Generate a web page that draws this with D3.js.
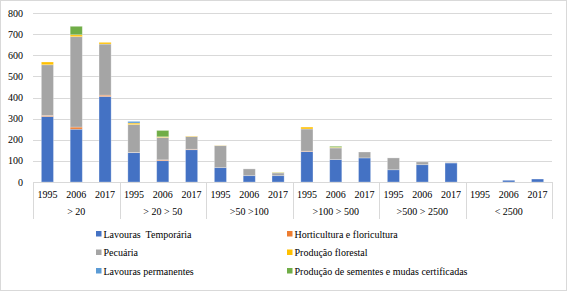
<!DOCTYPE html>
<html>
<head>
<meta charset="utf-8">
<script src="https://d3js.org/d3.v7.min.js"></script>
<style>
  body { margin: 0; background: #fff; }
</style>
</head>
<body>
<script>

// categories
var groups = ["> 20", "> 20 > 50", ">50 >100", ">100 > 500", ">500 > 2500", "< 2500"];
var years = ["1995", "2006", "2017"];

// series names, bottom to top of each stack
var seriesNames = [
  "Lavouras  Temporária",
  "Horticultura e floricultura",
  "Pecuária",
  "Produção florestal",
  "Lavouras permanentes",
  "Produção de sementes e mudas certificadas"
];
var seriesColors = ["#4472C4", "#ED7D31", "#A5A5A5", "#FFC000", "#5B9BD5", "#70AD47"];

// values per bar (groups x years, in order)
var temporaria    = [310, 250, 405, 139, 101, 153, 68, 30, 30, 144, 106, 114, 58, 82, 90, 0, 8, 14];
var horticultura  = [5, 10, 6, 1, 4, 2, 0, 0, 0, 2, 0, 0, 0, 0, 0, 0, 0, 0];
var pecuaria      = [240, 428, 242, 132, 106, 60, 104, 32, 13, 105, 55, 28, 56, 13, 2, 0, 0, 0];
var florestal     = [13, 9, 8, 7, 3, 2, 1, 0, 2, 9, 3, 0, 0, 0, 0, 0, 0, 0];
var permanentes   = [0, 0, 0, 8, 0, 0, 0, 0, 0, 0, 0, 0, 0, 0, 0, 0, 0, 0];
var sementes      = [0, 40, 0, 0, 30, 0, 0, 0, 1, 0, 5, 0, 0, 0, 0, 0, 0, 0];

var yTicks = [0, 100, 200, 300, 400, 500, 600, 700, 800];

var width = 567, height = 291;
var plotLeft = 33, plotRight = 552, plotTop = 13, plotBottom = 182;
var font = "'Liberation Serif', 'Times New Roman', serif";

var svg = d3.select("body").append("svg")
    .attr("width", width)
    .attr("height", height)
    .attr("font-family", font)
    .attr("font-size", 10);

// outer frame
svg.append("rect")
    .attr("x", 0.5).attr("y", 0.5)
    .attr("width", width - 1).attr("height", height - 1)
    .attr("fill", "#fff")
    .attr("stroke", "#D9D9D9");

var keys = [];
groups.forEach(function(g, gi) {
  years.forEach(function(yr) { keys.push(gi + "|" + yr); });
});

var rows = keys.map(function(k, i) {
  return {
    key: k,
    s0: temporaria[i], s1: horticultura[i], s2: pecuaria[i],
    s3: florestal[i], s4: permanentes[i], s5: sementes[i]
  };
});

var x = d3.scaleBand()
    .domain(keys)
    .range([plotLeft, plotRight])
    .paddingInner(0.58)
    .paddingOuter(0.29);

var y = d3.scaleLinear()
    .domain([0, 800])
    .range([plotBottom, plotTop]);

// gridlines
svg.append("g")
  .selectAll("line")
  .data(yTicks.slice(1))
  .enter().append("line")
    .attr("x1", plotLeft).attr("x2", plotRight)
    .attr("y1", function(d) { return Math.round(y(d)) + 0.5; })
    .attr("y2", function(d) { return Math.round(y(d)) + 0.5; })
    .attr("stroke", "#D9D9D9");

// y labels
svg.append("g")
  .selectAll("text")
  .data(yTicks)
  .enter().append("text")
    .attr("x", 23)
    .attr("y", function(d) { return y(d) + 3.5; })
    .attr("text-anchor", "end")
    .text(function(d) { return d; });

// stacked bars
var stack = d3.stack().keys(["s0", "s1", "s2", "s3", "s4", "s5"]);
var layers = stack(rows);

svg.append("g")
  .selectAll("g")
  .data(layers)
  .enter().append("g")
    .attr("fill", function(d, i) { return seriesColors[i]; })
  .selectAll("rect")
  .data(function(d) { return d.filter(function(p) { return p[1] > p[0]; }); })
  .enter().append("rect")
    .attr("x", function(d) { return x(d.data.key); })
    .attr("width", x.bandwidth())
    .attr("y", function(d) { return y(d[1]); })
    .attr("height", function(d) { return y(d[0]) - y(d[1]); })
    .attr("stroke", "#fff")
    .attr("stroke-opacity", 0.35)
    .attr("stroke-width", 0.8);

// x axis line
svg.append("line")
    .attr("x1", plotLeft).attr("x2", plotRight)
    .attr("y1", plotBottom + 0.5).attr("y2", plotBottom + 0.5)
    .attr("stroke", "#D9D9D9");

// group separators
var step = (plotRight - plotLeft) / groups.length;
svg.append("g")
  .selectAll("line")
  .data(d3.range(groups.length + 1))
  .enter().append("line")
    .attr("x1", function(d) { return Math.round(plotLeft + d * step) + 0.5; })
    .attr("x2", function(d) { return Math.round(plotLeft + d * step) + 0.5; })
    .attr("y1", plotBottom)
    .attr("y2", 219)
    .attr("stroke", "#D9D9D9");

// year labels
svg.append("g")
  .selectAll("text")
  .data(keys)
  .enter().append("text")
    .attr("x", function(d) { return x(d) + x.bandwidth() / 2; })
    .attr("y", 198)
    .attr("text-anchor", "middle")
    .text(function(d) { return d.split("|")[1]; });

// group labels
svg.append("g")
  .selectAll("text")
  .data(groups)
  .enter().append("text")
    .attr("x", function(d, i) { return plotLeft + (i + 0.5) * step; })
    .attr("y", 215)
    .attr("text-anchor", "middle")
    .style("white-space", "pre")
    .text(function(d) { return d; });

// legend
var legend = svg.append("g")
  .selectAll("g")
  .data(seriesNames)
  .enter().append("g")
    .attr("transform", function(d, i) {
      var cx = (i % 2 === 0) ? 96 : 287;
      var cy = 234 + Math.floor(i / 2) * 18.5;
      return "translate(" + cx + "," + cy + ")";
    });

legend.append("rect")
    .attr("x", 0).attr("y", -3)
    .attr("width", 5.5).attr("height", 5.5)
    .attr("fill", function(d, i) { return seriesColors[i]; });

legend.append("text")
    .attr("x", 7.5)
    .attr("y", 3.5)
    .style("white-space", "pre")
    .text(function(d) { return d; });

</script>
</body>
</html>
